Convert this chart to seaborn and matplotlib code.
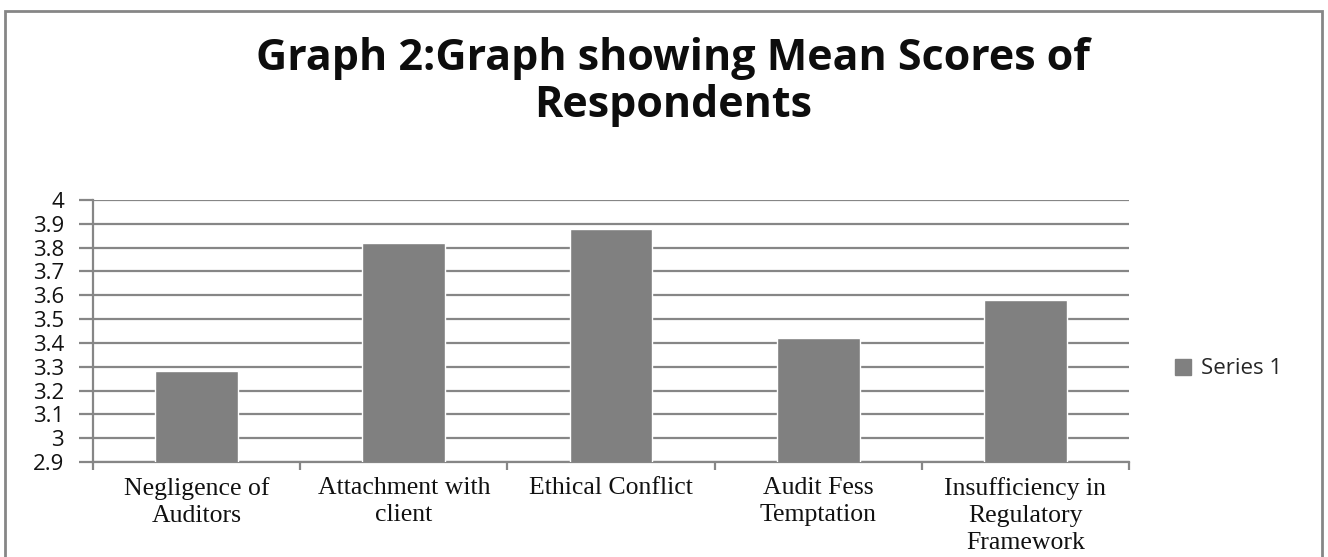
import pandas as pd
import seaborn as sns
import matplotlib.pyplot as plt
from matplotlib.patches import Rectangle
from matplotlib.lines import Line2D

# Data
categories = ["Negligence of\nAuditors", "Attachment with\nclient", "Ethical Conflict",
              "Audit Fess\nTemptation", "Insufficiency in\nRegulatory\nFramework"]
mean_scores = [3.28, 3.82, 3.88, 3.42, 3.58]
y_ticks = [2.9, 3.0, 3.1, 3.2, 3.3, 3.4, 3.5, 3.6, 3.7, 3.8, 3.9, 4.0]
y_tick_labels = ["2.9", "3", "3.1", "3.2", "3.3", "3.4", "3.5", "3.6", "3.7", "3.8", "3.9", "4"]
series_name = "Series 1"

df = pd.DataFrame({"category": categories, "score": mean_scores})

sns.set_theme(style="white")
grey = "#868686"
bar_color = "#808080"

fig = plt.figure(figsize=(13.28, 5.57), dpi=100)
ax = fig.add_axes([93 / 1328, 95 / 557, (1129 - 93) / 1328, 262 / 557])

sns.barplot(data=df, x="category", y="score", color=bar_color, width=0.4,
            saturation=1, ax=ax, zorder=3)

ax.set_ylim(2.9, 4.0)
ax.set_xlim(-0.5, len(categories) - 0.5)
ax.set_yticks(y_ticks)
ax.set_yticklabels(y_tick_labels, fontfamily="Open Sans", fontsize=16, color="#111111")
ax.yaxis.grid(True, color=grey, linewidth=1.6, zorder=0)
ax.set_axisbelow(True)

# category ticks sit between the bars, labels in the middle
ax.set_xticks([i - 0.5 for i in range(len(categories) + 1)])
ax.set_xticklabels([])
ax.set_xticks(range(len(categories)), minor=True)
ax.set_xticklabels(categories, minor=True, fontfamily="Liberation Serif", fontsize=18.5,
                   linespacing=1.3, va="top", color="#111111")
ax.tick_params(axis="x", which="minor", length=0, pad=11)
ax.tick_params(axis="x", which="major", length=6, width=1.6, color=grey, direction="out", bottom=True)
ax.tick_params(axis="y", length=10, width=1.6, color=grey, direction="out", left=True, pad=11)

ax.set_xlabel("")
ax.set_ylabel("")
for side in ["top", "right"]:
    ax.spines[side].set_visible(False)
for side in ["left", "bottom"]:
    ax.spines[side].set_color(grey)
    ax.spines[side].set_linewidth(1.6)

fig.text(0.507, 1 - 82 / 557, "Graph 2:Graph showing Mean Scores of\nRespondents", ha="center", va="center",
         fontfamily="Open Sans", fontweight="bold", fontsize=31, linespacing=1.15, color="#0d0d0d")

handle = Line2D([], [], marker="s", linestyle="none", markersize=12, color=bar_color)
fig.legend([handle], [series_name], loc="center left", bbox_to_anchor=(1152 / 1328, 1 - 369 / 557),
           frameon=False, prop={"family": "Open Sans", "size": 16}, handletextpad=-0.2,
           borderaxespad=0)

# outer chart border
fig.patches.append(Rectangle((5 / 1328, -0.05), 1317 / 1328, 1.03, transform=fig.transFigure,
                             fill=False, edgecolor=grey, linewidth=2))

fig.savefig("out.png", dpi=100)
